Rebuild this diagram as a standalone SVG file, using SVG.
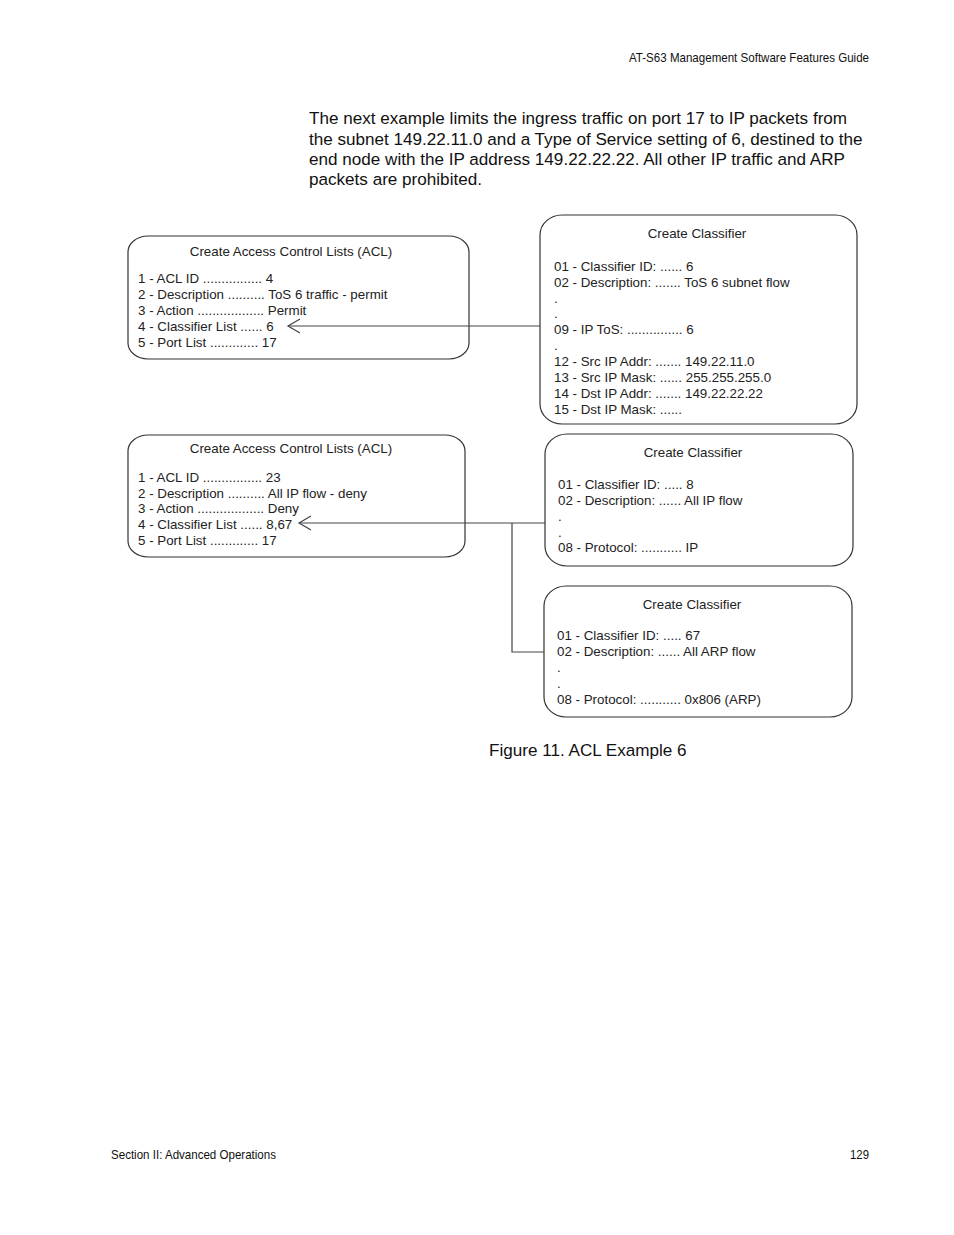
<svg xmlns="http://www.w3.org/2000/svg" width="954" height="1235" viewBox="0 0 954 1235">
<style>
.box{fill:#fff;stroke:#333;stroke-width:1.2}
.t{font-family:"Liberation Sans",Arial,sans-serif;font-size:13.35px;fill:#222}
.c{text-anchor:middle}
.body{font-family:"Liberation Sans",Arial,sans-serif;font-size:17.1px;fill:#111}
.hdr{font-family:"Liberation Sans",Arial,sans-serif;font-size:13px;fill:#111}
.ln{fill:none;stroke:#444;stroke-width:1.2}
</style>
<defs>
<marker id="ah" markerWidth="16" markerHeight="16" refX="13" refY="8" orient="auto" markerUnits="userSpaceOnUse">
<path d="M1,1 L13,8 L1,15" fill="none" stroke="#444" stroke-width="1.2"/>
</marker>
</defs>
<rect width="954" height="1235" fill="#fff"/>
<text class="hdr" x="869" y="62" text-anchor="end" textLength="240" lengthAdjust="spacingAndGlyphs">AT-S63 Management Software Features Guide</text>
<g class="body">
<text x="309" y="124">The next example limits the ingress traffic on port 17 to IP packets from</text>
<text x="309" y="145">the subnet 149.22.11.0 and a Type of Service setting of 6, destined to the</text>
<text x="309" y="165">end node with the IP address 149.22.22.22. All other IP traffic and ARP</text>
<text x="309" y="185">packets are prohibited.</text>
</g>
<g id="acl1">
<rect class="box" x="128" y="236" width="341" height="123" rx="20" ry="16"/>
<text class="t c" x="291" y="256">Create Access Control Lists (ACL)</text>
<text class="t" x="138" y="283">1 - ACL ID ................ 4</text>
<text class="t" x="138" y="299">2 - Description .......... ToS 6 traffic - permit</text>
<text class="t" x="138" y="315">3 - Action .................. Permit</text>
<text class="t" x="138" y="331">4 - Classifier List ...... 6</text>
<text class="t" x="138" y="347">5 - Port List ............. 17</text>
</g>
<g id="cls6">
<rect class="box" x="540" y="215" width="317" height="209" rx="22" ry="20"/>
<text class="t c" x="697" y="238">Create Classifier</text>
<text class="t" x="554" y="271">01 - Classifier ID: ...... 6</text>
<text class="t" x="554" y="287">02 - Description: ....... ToS 6 subnet flow</text>
<text class="t" x="554" y="303">.</text>
<text class="t" x="554" y="318">.</text>
<text class="t" x="554" y="334">09 - IP ToS: ............... 6</text>
<text class="t" x="554" y="350">.</text>
<text class="t" x="554" y="366">12 - Src IP Addr: ....... 149.22.11.0</text>
<text class="t" x="554" y="382">13 - Src IP Mask: ...... 255.255.255.0</text>
<text class="t" x="554" y="398">14 - Dst IP Addr: ....... 149.22.22.22</text>
<text class="t" x="554" y="414">15 - Dst IP Mask: ......</text>
</g>
<g id="acl2">
<rect class="box" x="128" y="435" width="337" height="122" rx="20" ry="16"/>
<text class="t c" x="291" y="453">Create Access Control Lists (ACL)</text>
<text class="t" x="138" y="482">1 - ACL ID ................ 23</text>
<text class="t" x="138" y="498">2 - Description .......... All IP flow - deny</text>
<text class="t" x="138" y="513">3 - Action .................. Deny</text>
<text class="t" x="138" y="529">4 - Classifier List ...... 8,67</text>
<text class="t" x="138" y="545">5 - Port List ............. 17</text>
</g>
<g id="cls8">
<rect class="box" x="545" y="434" width="308" height="132" rx="22" ry="20"/>
<text class="t c" x="693" y="457">Create Classifier</text>
<text class="t" x="558" y="489">01 - Classifier ID: ..... 8</text>
<text class="t" x="558" y="505">02 - Description: ...... All IP flow</text>
<text class="t" x="558" y="521">.</text>
<text class="t" x="558" y="537">.</text>
<text class="t" x="558" y="552">08 - Protocol: ........... IP</text>
</g>
<g id="cls67">
<rect class="box" x="544" y="586" width="308" height="131" rx="22" ry="20"/>
<text class="t c" x="692" y="609">Create Classifier</text>
<text class="t" x="557" y="640">01 - Classifier ID: ..... 67</text>
<text class="t" x="557" y="656">02 - Description: ...... All ARP flow</text>
<text class="t" x="557" y="672">.</text>
<text class="t" x="557" y="688">.</text>
<text class="t" x="557" y="704">08 - Protocol: ........... 0x806 (ARP)</text>
</g>
<g id="connectors">
<path class="ln" d="M540,326 H288" marker-end="url(#ah)"/>
<path class="ln" d="M545,523 H299" marker-end="url(#ah)"/>
<path class="ln" d="M512,523 V652 H544"/>
</g>
<text class="body" x="489" y="756">Figure 11. ACL Example 6</text>
<text class="hdr" x="111" y="1159" textLength="165" lengthAdjust="spacingAndGlyphs">Section II: Advanced Operations</text>
<text class="hdr" x="869" y="1159" text-anchor="end" textLength="19" lengthAdjust="spacingAndGlyphs">129</text>
</svg>
